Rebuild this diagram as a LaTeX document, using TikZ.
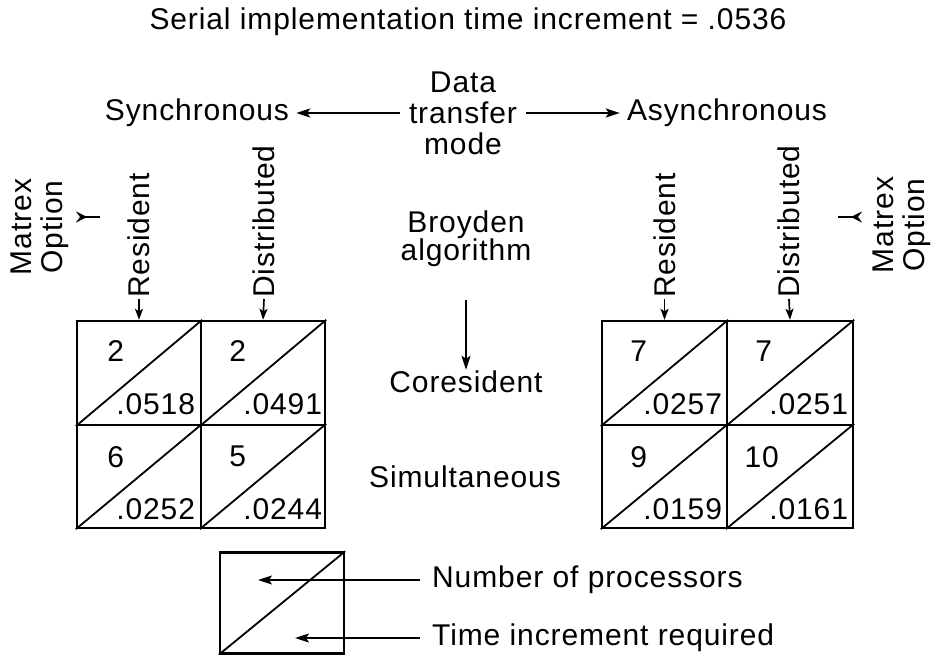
\documentclass[tikz,border=0pt]{standalone}
\usepackage{fontspec}
\setmainfont{Liberation Sans}[LetterSpace=3]
\usetikzlibrary{arrows.meta}
\begin{document}
\begin{tikzpicture}[x=1pt,y=-1pt,
  txt/.style={font=\fontsize{30}{31}\selectfont, inner sep=1pt},
  cellbox/.style={draw, line width=2.4pt, minimum width=124pt, minimum height=104pt, inner sep=0pt},
  diag/.style={line width=1.8pt},
  arr/.style={line width=1.7pt, -{Stealth[length=14pt,width=9pt,inset=3pt]}},
  smallarr/.style={line width=1.7pt, -{Stealth[length=11pt,width=8pt,inset=2.5pt]}},
  rot/.style={txt, rotate=90, anchor=west},
  num/.style={txt, anchor=center},
  val/.style={txt, anchor=east}
]
\useasboundingbox (0,0) rectangle (935,655);

% title
\node[txt] (title) at (468,22) {Serial implementation time increment = .0536};

% data transfer mode
\node[txt, align=center] (dtm) at (463,113) {Data\\transfer\\mode};
\node[txt, inner xsep=7pt] (sync) at (197,113) {Synchronous};
\node[txt, inner xsep=7pt] (async) at (727,113) {Asynchronous};
\coordinate (dtL) at (400,113);
\coordinate (dtR) at (526,113);
\draw[arr] (dtL) -- (sync.east);
\draw[arr] (dtR) -- (async.west);

% left grid
\node[cellbox] (A) at (139,373) {};
\node[cellbox] (B) at (263,373) {};
\node[cellbox, minimum height=103pt] (C) at (139,476.5) {};
\node[cellbox, minimum height=103pt] (D) at (263,476.5) {};
\foreach \c in {A,B,C,D}{\draw[diag] (\c.south west) -- (\c.north east);}
\node[num] (nA) at ([shift={(40,31)}]A.north west) {2};
\node[num] (nB) at ([shift={(38,31)}]B.north west) {2};
\node[num] (nC) at ([shift={(40,33)}]C.north west) {6};
\node[num] (nD) at ([shift={(38,33)}]D.north west) {5};
\node[val] (vA) at ([shift={(-6,-22)}]A.south east) {.0518};
\node[val] (vB) at ([shift={(-3,-22)}]B.south east) {.0491};
\node[val] (vC) at ([shift={(-6,-20)}]C.south east) {.0252};
\node[val] (vD) at ([shift={(-3,-20)}]D.south east) {.0244};

% right grid
\node[cellbox, minimum width=125pt] (E) at (664.5,373) {};
\node[cellbox, minimum width=126pt] (F) at (790,373) {};
\node[cellbox, minimum width=125pt, minimum height=103pt] (G) at (664.5,476.5) {};
\node[cellbox, minimum width=126pt, minimum height=103pt] (H) at (790,476.5) {};
\foreach \c in {E,F,G,H}{\draw[diag] (\c.south west) -- (\c.north east);}
\node[num] (nE) at ([shift={(38,31)}]E.north west) {7};
\node[num] (nF) at ([shift={(38,31)}]F.north west) {7};
\node[num] (nG) at ([shift={(38,33)}]G.north west) {9};
\node[num] (nH) at ([shift={(36,33)}]H.north west) {10};
\node[val] (vE) at ([shift={(-5,-22)}]E.south east) {.0257};
\node[val] (vF) at ([shift={(-5,-22)}]F.south east) {.0251};
\node[val] (vG) at ([shift={(-5,-20)}]G.south east) {.0159};
\node[val] (vH) at ([shift={(-5,-20)}]H.south east) {.0161};

% column labels
\node[rot] (rL) at (139,299) {Resident};
\node[rot] (dL) at (264,299) {Distributed};
\node[rot] (rR) at (664.5,299) {Resident};
\node[rot] (dR) at (789,299) {Distributed};
\draw[smallarr] (rL.west) -- (A.north);
\draw[smallarr] (dL.west) -- (B.north);
\draw[smallarr] (rR.west) -- (E.north);
\draw[smallarr] (dR.west) -- (F.north);

% Matrex option
\node[txt, rotate=90, align=center] (mL) at (40,227) {Matrex\\Option};
\node[txt, rotate=90, align=center] (mR) at (902,225) {Matrex\\Option};
\coordinate (mLa) at (76,217);
\coordinate (mLb) at (100,217);
\coordinate (mRa) at (838,217);
\coordinate (mRb) at (862,217);
\draw[line width=2.5pt, {Stealth[length=11pt,width=11pt,inset=4pt,reversed]}-] (mLa) -- (mLb);
\draw[line width=2.5pt, -{Stealth[length=11pt,width=11pt,inset=4pt,reversed]}] (mRa) -- (mRb);

% Broyden algorithm
\node[txt, align=center, font=\fontsize{30}{28}\selectfont] (broy) at (466,239) {Broyden\\algorithm};
\node[txt] (cores) at (466,382) {Coresident};
\node[txt] (simul) at (465,477) {Simultaneous};
\coordinate (brA) at (466,300);
\draw[arr] (brA) -- (cores.north);

% legend
\node[cellbox, minimum height=101pt] (leg) at (282,603) {};
\draw[diag] (leg.south west) -- (leg.north east);
\node[txt, anchor=west, inner xsep=12pt] (lnum) at (420,580) {Number of processors};
\node[txt, anchor=west, inner xsep=12pt] (ltime) at (420,638) {Time increment required};
\coordinate (lnB) at (258,580);
\coordinate (ltB) at (295,638);
\draw[arr] (lnum.west) -- (lnB);
\draw[arr] (ltime.west) -- (ltB);
\end{tikzpicture}
\end{document}
